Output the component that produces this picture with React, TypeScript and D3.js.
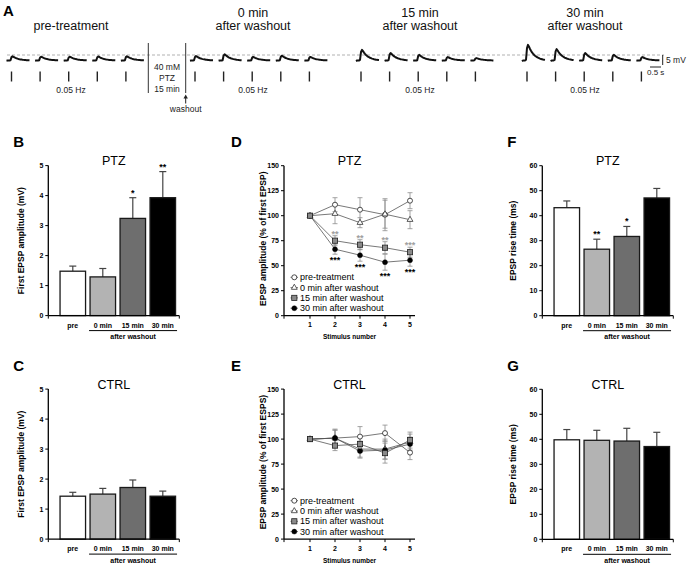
import React from "react";
import * as d3 from "d3";

const FONT = "'Liberation Sans', Arial, Helvetica, sans-serif";

// ---------------- Panel A : example traces ----------------
const sweepTitles: string[][] = [
  ["pre-treatment"],
  ["0 min", "after washout"],
  ["15 min", "after washout"],
  ["30 min", "after washout"],
];
// peak EPSP amplitude (mV) of each of the five sweeps per condition
const sweepAmplitudes: number[][] = [
  [2.1, 1.9, 1.9, 2.0, 2.1],
  [2.2, 3.1, 1.8, 2.4, 1.8],
  [5.3, 3.7, 2.8, 1.7, 1.2],
  [7.8, 5.7, 3.7, 2.8, 1.7],
];
// normalised EPSP waveform (fraction of peak)
const epspShape: number[] = [
  -0.05, 0, 0, 0, 0.05, 0.8, 1, 0.88, 0.74, 0.62, 0.52, 0.44, 0.37, 0.31, 0.26,
  0.22, 0.18, 0.15, 0.12, 0.1, 0.08, 0.06, 0.05, 0.04,
];
const stimRate = "0.05 Hz";
const treatmentText = ["40 mM", "PTZ", "15 min"];

// ---------------- Bar panels (B, C, F, G) ----------------
const barCategories = ["pre", "0 min", "15 min", "30 min"];
const barFills = ["#ffffff", "#b3b3b3", "#6e6e6e", "#000000"];
const ampTicks = [0, 1, 2, 3, 4, 5];
const riseTicks = [0, 10, 20, 30, 40, 50, 60];

const ptzAmp = [1.48, 1.29, 3.24, 3.93];
const ptzAmpSem = [0.17, 0.28, 0.69, 0.87];
const ptzAmpStars = ["", "", "*", "**"];

const ctrlAmp = [1.43, 1.5, 1.72, 1.43];
const ctrlAmpSem = [0.13, 0.19, 0.25, 0.17];

const ptzRise = [43.2, 26.6, 31.7, 47.1];
const ptzRiseSem = [2.7, 4.0, 4.0, 3.8];
const ptzRiseStars = ["", "**", "*", ""];

const ctrlRise = [39.8, 39.6, 39.3, 37.1];
const ctrlRiseSem = [4.1, 4.0, 5.1, 5.7];

const noStars = ["", "", "", ""];

// ---------------- Line panels (D, E) ----------------
const stimulusNumbers = [1, 2, 3, 4, 5];
const pctTicks = [0, 25, 50, 75, 100, 125, 150];
const seriesNames = [
  "pre-treatment",
  "0 min after washout",
  "15 min after washout",
  "30 min after washout",
];

const ptzPre = [100, 111, 106, 101, 115];
const ptzPreSem = [0, 7, 12, 16, 8];
const ptzW0 = [100, 102, 93, 101.5, 96];
const ptzW0Sem = [0, 10, 5, 14, 9];
const ptzW15 = [100, 75, 71, 68, 63.5];
const ptzW15Sem = [0, 5, 5, 6, 5];
const ptzW30 = [100, 66.5, 60.5, 53.5, 55.5];
const ptzW30Sem = [0, 5, 6, 8, 6];
const ptzStars15 = ["", "**", "**", "**", "***"];
const ptzStars30 = ["", "***", "***", "***", "***"];

const ctrlPre = [100, 101, 102.5, 106, 86.5];
const ctrlPreSem = [0, 8, 10, 8, 7];
const ctrlW0 = [100, 101, 90, 90, 97];
const ctrlW0Sem = [0, 9, 8, 10, 8];
const ctrlW15 = [100, 93.5, 95, 86, 99];
const ctrlW15Sem = [0, 5, 8, 10, 8];
const ctrlW30 = [100, 101, 88, 89, 95];
const ctrlW30Sem = [0, 8, 7, 9, 7];
const ctrlStars = ["", "", "", "", ""];

// ---------------- layout ----------------
const GROUP_X = [6.5, 190, 356, 522];
const TITLE_X = [71, 253, 420, 585];
const SWEEP_STEP = 28.6;
const SWEEP_W = 23;

function TracesPanel() {
  const yMv = d3.scaleLinear().domain([0, 5]).range([60.5, 50.5]);
  const sx = d3.scaleLinear().domain([0, epspShape.length - 1]).range([0, SWEEP_W]);
  const line = d3
    .line<number>()
    .x((_, i) => sx(i))
    .y((d) => d)
    .curve(d3.curveLinear);
  return (
    <g>
      <text x={3} y={16} fontSize={15} fontWeight="bold">A</text>
      <line x1={7} x2={664} y1={yMv(2.75)} y2={yMv(2.75)} stroke="#a8a8a8" strokeDasharray="3,2" strokeWidth={0.9} />
      {sweepAmplitudes.map((amps, g) => (
        <g key={g}>
          {sweepTitles[g].map((t, k) => (
            <text
              key={k}
              x={TITLE_X[g]}
              y={sweepTitles[g].length === 1 ? 30 : 16.5 + 13.5 * k}
              fontSize={12.5}
              textAnchor="middle"
              fill="#111"
            >
              {t}
            </text>
          ))}
          {amps.map((a, i) => {
            const x = GROUP_X[g] + i * SWEEP_STEP;
            return (
              <g key={i}>
                <path
                  transform={`translate(${x},0)`}
                  d={line(epspShape.map((f) => yMv(f * a))) || ""}
                  fill="none"
                  stroke="#111"
                  strokeWidth={2}
                  strokeLinejoin="round"
                />
                <line x1={x + 5} x2={x + 5} y1={71.5} y2={81.5} stroke="#222" strokeWidth={1.4} />
              </g>
            );
          })}
          <text x={TITLE_X[g]} y={93} fontSize={8.5} textAnchor="middle" fill="#222">
            {stimRate}
          </text>
        </g>
      ))}
      <line x1={148.3} x2={148.3} y1={43} y2={93} stroke="#333" strokeWidth={1} />
      <line x1={185.7} x2={185.7} y1={43} y2={93} stroke="#333" strokeWidth={1} />
      {treatmentText.map((t, k) => (
        <text key={k} x={167} y={70 + 11 * k} fontSize={8.5} textAnchor="middle" fill="#222">
          {t}
        </text>
      ))}
      <line x1={185.7} x2={185.7} y1={97} y2={103.5} stroke="#222" strokeWidth={1} />
      <path d="M185.7,94.5 L183.5,98.5 L187.9,98.5 Z" fill="#222" />
      <text x={185.7} y={112} fontSize={8.5} textAnchor="middle" fill="#222">washout</text>
      {/* scale bar */}
      <line x1={662.7} x2={662.7} y1={yMv(2.75)} y2={yMv(-2.25)} stroke="#222" strokeWidth={1} />
      <line x1={650} x2={661} y1={67} y2={67} stroke="#222" strokeWidth={1} />
      <text x={666} y={62.5} fontSize={8.5} fill="#222">5 mV</text>
      <text x={647} y={74.5} fontSize={8} fill="#222">0.5 s</text>
    </g>
  );
}

function YAxis({ x0, y, ticks }: { x0: number; y: d3.ScaleLinear<number, number>; ticks: number[] }) {
  const [lo, hi] = y.domain();
  return (
    <g>
      <line x1={x0} x2={x0} y1={y(lo)} y2={y(hi)} stroke="#000" strokeWidth={1.3} />
      {ticks.map((t) => (
        <g key={t}>
          <line x1={x0 - 3} x2={x0} y1={y(t)} y2={y(t)} stroke="#000" strokeWidth={1} />
          <text x={x0 - 5} y={y(t)} dy="0.35em" fontSize={7} fontWeight="bold" textAnchor="end">
            {t}
          </text>
        </g>
      ))}
    </g>
  );
}

function BarPanel(props: {
  x0: number;
  yBottom: number;
  yMax: number;
  ticks: number[];
  values: number[];
  sems: number[];
  stars: string[];
  title: string;
  yLabel: string;
  labelX: number;
  letter: string;
}) {
  const { x0, yBottom, yMax, ticks, values, sems, stars, title, yLabel, labelX, letter } = props;
  const x = d3
    .scaleBand<string>()
    .domain(barCategories)
    .range([x0 + 9.5, x0 + 129.5])
    .paddingInner(0.15)
    .paddingOuter(0.075);
  const y = d3.scaleLinear().domain([0, yMax]).range([yBottom, yBottom - 150]);
  const bw = x.bandwidth();
  const xEnd = x0 + 131;
  const wStart = (x(barCategories[1]) as number) - 1;
  const wEnd = (x(barCategories[3]) as number) + bw + 1.5;
  return (
    <g>
      <text x={x0 - 35} y={yBottom - 168.5} fontSize={15} fontWeight="bold">{letter}</text>
      <text x={(x0 + xEnd) / 2} y={yBottom - 150.5} fontSize={12.5} textAnchor="middle">{title}</text>
      <text
        transform={`translate(${labelX},${yBottom - 75}) rotate(-90)`}
        fontSize={8.5}
        fontWeight="bold"
        textAnchor="middle"
        dy="0.35em"
      >
        {yLabel}
      </text>
      {barCategories.map((c, i) => {
        const cx = (x(c) as number) + bw / 2;
        const top = y(values[i] + sems[i]);
        return (
          <g key={c}>
            <line x1={cx} x2={cx} y1={y(values[i])} y2={top} stroke="#444" strokeWidth={1.2} />
            <line x1={cx - 3.5} x2={cx + 3.5} y1={top} y2={top} stroke="#444" strokeWidth={1.2} />
            <rect
              x={x(c)}
              y={y(values[i])}
              width={bw}
              height={y(0) - y(values[i])}
              fill={barFills[i]}
              stroke="#1a1a1a"
              strokeWidth={1.3}
            />
            {stars[i] && (
              <text x={cx} y={top - 2} fontSize={9} fontWeight="bold" textAnchor="middle">
                {stars[i]}
              </text>
            )}
            <text x={cx} y={yBottom + 12} fontSize={7} fontWeight="bold" textAnchor="middle">
              {c}
            </text>
          </g>
        );
      })}
      <YAxis x0={x0} y={y} ticks={ticks} />
      <line x1={x0} x2={xEnd} y1={y(0)} y2={y(0)} stroke="#000" strokeWidth={1.3} />
      <line x1={x0} x2={x0} y1={y(0)} y2={y(0) + 3} stroke="#000" strokeWidth={1} />
      <line x1={xEnd} x2={xEnd} y1={y(0)} y2={y(0) + 3} stroke="#000" strokeWidth={1} />
      <line x1={wStart} x2={wEnd} y1={yBottom + 15} y2={yBottom + 15} stroke="#000" strokeWidth={1} />
      <text x={(wStart + wEnd) / 2} y={yBottom + 23.5} fontSize={7} fontWeight="bold" textAnchor="middle">
        after washout
      </text>
    </g>
  );
}

type Series = { name: string; values: number[]; sems: number[]; marker: string };

function Marker({ kind, cx, cy }: { kind: string; cx: number; cy: number }) {
  if (kind === "openCircle")
    return <circle cx={cx} cy={cy} r={2.5} fill="#fff" stroke="#222" strokeWidth={0.8} />;
  if (kind === "openTriangle")
    return (
      <path
        transform={`translate(${cx},${cy})`}
        d={d3.symbol(d3.symbolTriangle, 15)() || ""}
        fill="#fff"
        stroke="#333"
        strokeWidth={0.8}
      />
    );
  if (kind === "graySquare")
    return <rect x={cx - 2.6} y={cy - 2.6} width={5.2} height={5.2} fill="#8a8a8a" stroke="#222" strokeWidth={0.8} />;
  return <circle cx={cx} cy={cy} r={2.5} fill="#000" stroke="#000" strokeWidth={0.4} />;
}

function LinePanel(props: {
  x0: number;
  yBottom: number;
  title: string;
  yLabel: string;
  series: Series[];
  starsGray: string[];
  starsBlack: string[];
  letter: string;
}) {
  const { x0, yBottom, title, yLabel, series, starsGray, starsBlack, letter } = props;
  const x = d3.scaleLinear().domain([0, 5.2]).range([x0 + 1, x0 + 131]);
  const y = d3.scaleLinear().domain([0, 150]).range([yBottom, yBottom - 150]);
  const xEnd = x0 + 131;
  const line = d3
    .line<number>()
    .x((_, i) => x(stimulusNumbers[i]))
    .y((d) => y(d));
  const drawOrder = [0, 1, 3, 2];
  const s15 = series[2];
  const s30 = series[3];
  return (
    <g>
      <text x={x0 - 53} y={yBottom - 168.5} fontSize={15} fontWeight="bold">{letter}</text>
      <text x={(x0 + xEnd) / 2} y={yBottom - 150.5} fontSize={12.5} textAnchor="middle">{title}</text>
      <text
        transform={`translate(${x0 - 21},${yBottom - 77}) rotate(-90)`}
        fontSize={8.5}
        fontWeight="bold"
        textAnchor="middle"
        dy="0.35em"
      >
        {yLabel}
      </text>
      {/* error bars */}
      {series.map((s, k) =>
        s.values.map((v, i) =>
          s.sems[i] > 0 ? (
            <g key={`${k}-${i}`} stroke="#8c8c8c" strokeWidth={0.8}>
              <line x1={x(stimulusNumbers[i])} x2={x(stimulusNumbers[i])} y1={y(v - s.sems[i])} y2={y(v + s.sems[i])} />
              <line x1={x(stimulusNumbers[i]) - 2.5} x2={x(stimulusNumbers[i]) + 2.5} y1={y(v + s.sems[i])} y2={y(v + s.sems[i])} />
              <line x1={x(stimulusNumbers[i]) - 2.5} x2={x(stimulusNumbers[i]) + 2.5} y1={y(v - s.sems[i])} y2={y(v - s.sems[i])} />
            </g>
          ) : null
        )
      )}
      {series.map((s, k) => (
        <path key={k} d={line(s.values) || ""} fill="none" stroke="#555" strokeWidth={0.8} />
      ))}
      {drawOrder.map((k) =>
        series[k].values.map((v, i) => (
          <Marker key={`${k}-${i}`} kind={series[k].marker} cx={x(stimulusNumbers[i])} cy={y(v)} />
        ))
      )}
      {starsGray.map((st, i) =>
        st ? (
          <text key={`g${i}`} x={x(stimulusNumbers[i])} y={y(s15.values[i] + s15.sems[i]) + 1} fontSize={9} fontWeight="bold" fill="#a0a0a0" textAnchor="middle">
            {st}
          </text>
        ) : null
      )}
      {starsBlack.map((st, i) =>
        st ? (
          <text key={`b${i}`} x={x(stimulusNumbers[i])} y={y(s30.values[i] - s30.sems[i]) + 9} fontSize={9} fontWeight="bold" fill="#000" textAnchor="middle">
            {st}
          </text>
        ) : null
      )}
      <YAxis x0={x0} y={y} ticks={pctTicks} />
      <line x1={x0} x2={xEnd} y1={y(0)} y2={y(0)} stroke="#000" strokeWidth={1.3} />
      <line x1={x0} x2={x0} y1={y(0)} y2={y(0) + 3} stroke="#000" strokeWidth={1} />
      {stimulusNumbers.map((n) => (
        <g key={n}>
          <line x1={x(n)} x2={x(n)} y1={y(0)} y2={y(0) + 3} stroke="#000" strokeWidth={1} />
          <text x={x(n)} y={yBottom + 11.5} fontSize={7} fontWeight="bold" textAnchor="middle">
            {n}
          </text>
        </g>
      ))}
      <text x={(x0 + xEnd) / 2} y={yBottom + 23.5} fontSize={6.5} fontWeight="bold" textAnchor="middle">
        Stimulus number
      </text>
      {/* legend */}
      {series.map((s, k) => {
        const ly = yBottom - 38.4 + 10.3 * k;
        return (
          <g key={`lg${k}`}>
            <line x1={x0 + 6.5} x2={x0 + 14} y1={ly} y2={ly} stroke="#555" strokeWidth={0.8} />
            <Marker kind={s.marker} cx={x0 + 10.3} cy={ly} />
            <text x={x0 + 16} y={ly} dy="0.35em" fontSize={9}>
              {s.name}
            </text>
          </g>
        );
      })}
    </g>
  );
}

const markers = ["openCircle", "openTriangle", "graySquare", "filledCircle"];

function makeSeries(vals: number[][], sems: number[][]): Series[] {
  return vals.map((v, k) => ({ name: seriesNames[k], values: v, sems: sems[k], marker: markers[k] }));
}

export default function App() {
  const ptzSeries = makeSeries([ptzPre, ptzW0, ptzW15, ptzW30], [ptzPreSem, ptzW0Sem, ptzW15Sem, ptzW30Sem]);
  const ctrlSeries = makeSeries([ctrlPre, ctrlW0, ctrlW15, ctrlW30], [ctrlPreSem, ctrlW0Sem, ctrlW15Sem, ctrlW30Sem]);
  return (
    <svg
      width={689}
      height={565}
      viewBox="0 0 689 565"
      style={{ position: "fixed", left: 0, top: 0, background: "#fff", fontFamily: FONT }}
      fontFamily={FONT}
    >
      <rect width={689} height={565} fill="#fff" />
      <TracesPanel />
      <BarPanel x0={48.3} yBottom={315.6} yMax={5} ticks={ampTicks} values={ptzAmp} sems={ptzAmpSem} stars={ptzAmpStars} title="PTZ" yLabel="First EPSP amplitude (mV)" labelX={20.7} letter="B" />
      <BarPanel x0={48.3} yBottom={539.1} yMax={5} ticks={ampTicks} values={ctrlAmp} sems={ctrlAmpSem} stars={noStars} title="CTRL" yLabel="First EPSP amplitude (mV)" labelX={20.7} letter="C" />
      <LinePanel x0={284} yBottom={315.7} title="PTZ" yLabel="EPSP amplitude (% of first EPSP)" series={ptzSeries} starsGray={ptzStars15} starsBlack={ptzStars30} letter="D" />
      <LinePanel x0={284} yBottom={539.1} title="CTRL" yLabel="EPSP amplitude (% of first ESPS)" series={ctrlSeries} starsGray={ctrlStars} starsBlack={ctrlStars} letter="E" />
      <BarPanel x0={542.3} yBottom={315.7} yMax={60} ticks={riseTicks} values={ptzRise} sems={ptzRiseSem} stars={ptzRiseStars} title="PTZ" yLabel="EPSP rise time (ms)" labelX={513.3} letter="F" />
      <BarPanel x0={542.3} yBottom={539.3} yMax={60} ticks={riseTicks} values={ctrlRise} sems={ctrlRiseSem} stars={noStars} title="CTRL" yLabel="EPSP rise time (ms)" labelX={513.3} letter="G" />
    </svg>
  );
}
